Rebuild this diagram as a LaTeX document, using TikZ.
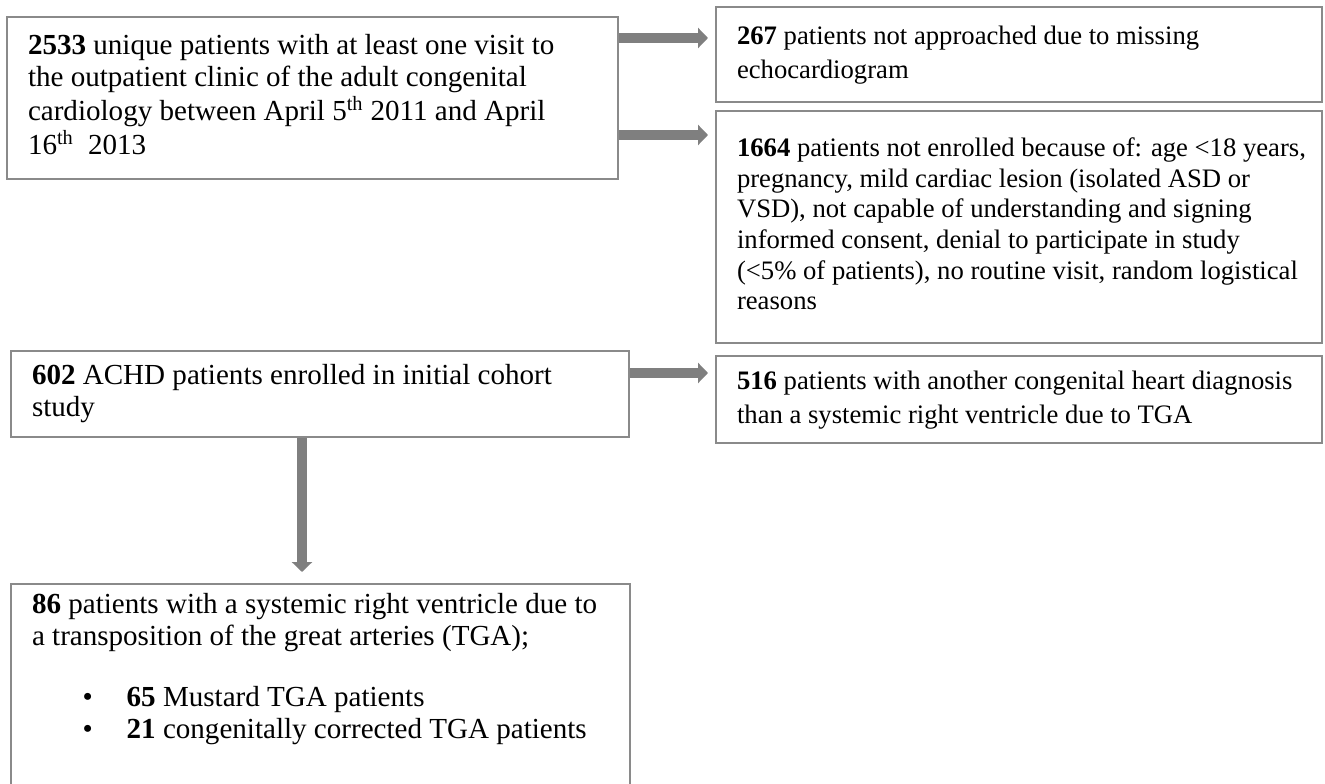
\documentclass[tikz,border=0pt]{standalone}
\usepackage{fontspec}
\setmainfont{Liberation Serif}
\usetikzlibrary{arrows.meta,calc}
\definecolor{boxgray}{HTML}{8A8A8A}
\definecolor{arrgray}{HTML}{7F7F7F}
\newcommand\boxlines[2]{\makebox[#1][l]{\begin{tabular}{@{}l@{}}#2\end{tabular}}}
\begin{document}
\begin{tikzpicture}[x=0.75pt,y=-0.75pt,
  box/.style={draw=boxgray, line width=1.5pt, anchor=north west,
    inner xsep=15.75pt, inner ysep=4pt},
  bigtext/.style={font=\fontsize{21.8}{24}\selectfont},
  smalltext/.style={font=\fontsize{20}{23}\selectfont},
  widetext/.style={font=\fontsize{20}{25.5}\selectfont},
  arr/.style={draw=arrgray, line width=7.5pt, -{Triangle[length=7.5pt,width=15pt]}}]
\useasboundingbox (0,0) rectangle (1325,784);

\node[box, bigtext, minimum height=121.5pt] (A) at (6,16)
  {\boxlines{426.75pt}{\textbf{2533} unique patients with at least one visit to\\
   the outpatient clinic of the adult congenital\\
   cardiology between April 5\textsuperscript{th} 2011 and April\\
   16\textsuperscript{th}\ \ 2013}};

\node[box, widetext, minimum height=71.25pt] (B) at (715,6)
  {\boxlines{423pt}{\textbf{267} patients not approached due to missing\\
   echocardiogram}};

\node[box, smalltext, minimum height=174pt] (C) at (715,110)
  {\boxlines{423pt}{\textbf{1664} patients not enrolled because of: age <18 years,\\
   pregnancy, mild cardiac lesion (isolated ASD or\\
   VSD), not capable of understanding and signing\\
   informed consent, denial to participate in study\\
   (<5\% of patients), no routine visit, random logistical\\
   reasons}};

\node[box, bigtext, minimum height=64.5pt] (D) at (10,350)
  {\boxlines{432pt}{\textbf{602} ACHD patients enrolled in initial cohort\\
   study}};

\node[box, widetext, minimum height=65.25pt] (E) at (715,355)
  {\boxlines{423pt}{\textbf{516} patients with another congenital heart diagnosis\\
   than a systemic right ventricle due to TGA}};

\node[box, bigtext, inner ysep=5pt] (F) at (10,583)
  {\boxlines{432.75pt}{\textbf{86} patients with a systemic right ventricle due to\\
   a transposition of the great arteries (TGA);\\[22pt]
   \hspace*{38pt}\makebox[33pt][l]{\textbullet}\textbf{65} Mustard TGA patients\\
   \hspace*{38pt}\makebox[33pt][l]{\textbullet}\textbf{21} congenitally corrected TGA patients\rule[-45pt]{0pt}{1pt}}};

\draw[arr] ($(A.north east)+(0,22)$) -- ($(A.north east -| B.west)+(-7,22)$);
\draw[arr] ($(A.north east)+(0,119)$) -- ($(A.north east -| C.west)+(-7,119)$);
\draw[arr] ($(D.north east)+(0,23)$) -- ($(D.north east -| E.west)+(-7,23)$);
\draw[arr] ($(D.south west)+(292,0)$) -- ($(F.north west)+(292,-11)$);
\end{tikzpicture}
\end{document}
